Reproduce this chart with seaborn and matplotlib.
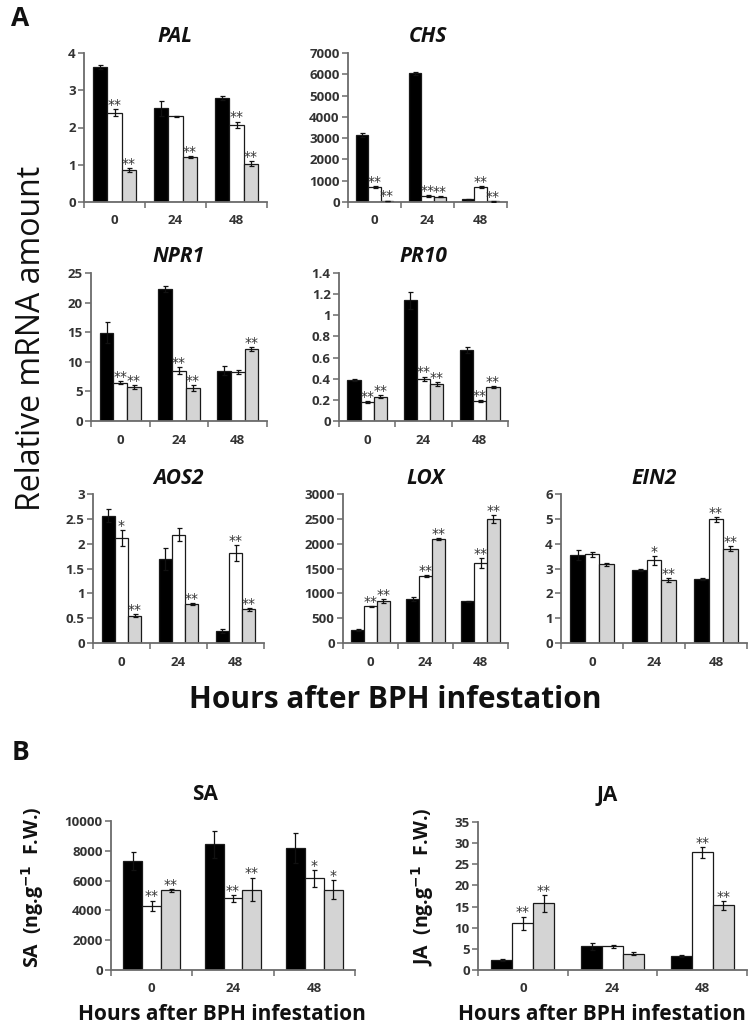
import numpy as np
import pandas as pd
import matplotlib
matplotlib.use("Agg")
import matplotlib.pyplot as plt
import seaborn as sns

sns.set_theme(style="white")
plt.rcParams['font.family'] = ['Open Sans', 'DejaVu Sans']

# ---------------- data ----------------
times = ["0", "24", "48"]
groups = ["G1", "G2", "G3"]

pal_vals = [[3.62, 2.52, 2.80], [2.40, 2.30, 2.08], [0.86, 1.20, 1.03]]
pal_errs = [[0.05, 0.20, 0.05], [0.10, 0.02, 0.08], [0.05, 0.03, 0.07]]
pal_sig = [["", "", ""], ["**", "", "**"], ["**", "**", "**"]]

chs_vals = [[3150, 6050, 130], [700, 280, 720], [60, 240, 30]]
chs_errs = [[100, 80, 20], [30, 30, 40], [10, 20, 10]]
chs_sig = [["", "", ""], ["**", "**", "**"], ["**", "**", "**"]]

npr1_vals = [[14.9, 22.3, 8.5], [6.5, 8.5, 8.3], [5.7, 5.5, 12.2]]
npr1_errs = [[1.8, 0.5, 0.8], [0.3, 0.6, 0.3], [0.3, 0.5, 0.3]]
npr1_sig = [["", "", ""], ["**", "**", ""], ["**", "**", "**"]]

pr10_vals = [[0.39, 1.14, 0.67], [0.18, 0.40, 0.19], [0.23, 0.35, 0.32]]
pr10_errs = [[0.01, 0.08, 0.03], [0.01, 0.02, 0.01], [0.015, 0.02, 0.01]]
pr10_sig = [["", "", ""], ["**", "**", "**"], ["**", "**", "**"]]

aos2_vals = [[2.56, 1.69, 0.25], [2.11, 2.18, 1.81], [0.55, 0.78, 0.68]]
aos2_errs = [[0.13, 0.23, 0.04], [0.16, 0.13, 0.16], [0.03, 0.02, 0.03]]
aos2_sig = [["", "", ""], ["*", "", "**"], ["**", "**", "**"]]

lox_vals = [[260, 890, 840], [740, 1350, 1610], [850, 2090, 2490]]
lox_errs = [[20, 40, 10], [10, 15, 100], [40, 20, 80]]
lox_sig = [["", "", ""], ["**", "**", "**"], ["**", "**", "**"]]

ein2_vals = [[3.53, 2.93, 2.57], [3.57, 3.33, 4.98], [3.17, 2.52, 3.80]]
ein2_errs = [[0.20, 0.03, 0.05], [0.10, 0.17, 0.10], [0.07, 0.08, 0.10]]
ein2_sig = [["", "", ""], ["", "*", "**"], ["", "**", "**"]]

sa_vals = [[7300, 8450, 8200], [4300, 4800, 6150], [5350, 5400, 5400]]
sa_errs = [[600, 900, 1000], [350, 250, 550], [100, 800, 650]]
sa_sig = [["", "", ""], ["**", "**", "*"], ["**", "**", "*"]]

ja_vals = [[2.4, 5.6, 3.3], [11.0, 5.6, 27.8], [15.8, 3.9, 15.3]]
ja_errs = [[0.2, 0.8, 0.3], [1.6, 0.4, 1.2], [2.0, 0.3, 1.0]]
ja_sig = [["", "", ""], ["**", "", "**"], ["**", "", "**"]]

colors = ["#000000", "#ffffff", "#d4d4d4"]

W, H = 750, 1033
fig = plt.figure(figsize=(W / 100, H / 100), dpi=100)


def rect(x0, x1, yt, yb):
    return [x0 / W, 1 - yb / H, (x1 - x0) / W, (yb - yt) / H]


TICK_COLOR = "#333333"
SPINE_COLOR = "#6b6b6b"


def panel(r, vals, errs, sig, ymax, ystep, title, italic=True, title_x=None,
          title_y=None, tick_fs=9.5):
    ax = fig.add_axes(rect(*r))
    rows = []
    for g, gname in enumerate(groups):
        for t, tname in enumerate(times):
            rows.append({"time": tname, "group": gname, "value": vals[g][t]})
    df = pd.DataFrame(rows)
    sns.barplot(data=df, x="time", y="value", hue="group", order=times,
                hue_order=groups, palette=colors, edgecolor="#1a1a1a",
                linewidth=0.9, width=0.7, errorbar=None, legend=False,
                saturation=1, ax=ax)
    bars = sorted(ax.patches, key=lambda p: p.get_x())
    for i, p in enumerate(bars):
        t, g = divmod(i, 3)
        xc = p.get_x() + p.get_width() / 2
        h = p.get_height()
        e = errs[g][t]
        ax.errorbar(xc, h, yerr=e, color="#111111", lw=0.9, capsize=1.8,
                    capthick=0.9, zorder=5)
        s = sig[g][t]
        if s:
            ax.annotate(s, (xc, h + e), xytext=(0, -2), textcoords="offset points",
                        ha="center", va="bottom", fontsize=10, color="#333333",
                        family="DejaVu Sans", zorder=6)
    ax.set_xlim(-0.5, 2.5)
    ax.set_ylim(0, ymax)
    yt = np.arange(0, ymax + ystep / 2, ystep)
    ax.set_yticks(yt)
    ax.set_yticklabels([f"{v:g}" for v in np.round(yt, 6)])
    ax.set_xticks([0, 1, 2])
    ax.set_xticklabels(times)
    ax.set_xticks([-0.5, 0.5, 1.5, 2.5], minor=True)
    ax.tick_params(axis="x", which="major", length=0, pad=9, labelsize=tick_fs,
                   labelcolor=TICK_COLOR)
    ax.tick_params(axis="x", which="minor", length=4, width=1.1, color=SPINE_COLOR,
                   direction="out", bottom=True)
    ax.tick_params(axis="y", length=4, width=1.1, color=SPINE_COLOR, direction="out",
                   left=True, labelsize=tick_fs, labelcolor=TICK_COLOR, pad=2)
    for lab in ax.get_xticklabels() + ax.get_yticklabels():
        lab.set_fontweight("bold")
    for s in ["top", "right"]:
        ax.spines[s].set_visible(False)
    for s in ["left", "bottom"]:
        ax.spines[s].set_color(SPINE_COLOR)
        ax.spines[s].set_linewidth(1.3)
    ax.set_xlabel("")
    ax.set_ylabel("")
    ax.grid(False)
    if title_x is None:
        title_x = (r[0] + r[1]) / 2
    if title_y is None:
        title_y = r[2] - 16
    fig.text(title_x / W, 1 - title_y / H, title, ha="center", va="center",
             fontsize=15, fontweight="bold", style="italic" if italic else "normal",
             color="#111111")
    return ax


panel((84, 267, 53, 202), pal_vals, pal_errs, pal_sig, 4, 1, "PAL")
panel((348, 507, 53, 202), chs_vals, chs_errs, chs_sig, 7000, 1000, "CHS")
panel((91, 267, 273, 421), npr1_vals, npr1_errs, npr1_sig, 25, 5, "NPR1")
panel((339, 508, 273, 421), pr10_vals, pr10_errs, pr10_sig, 1.4, 0.2, "PR10")
panel((93, 264, 494, 643), aos2_vals, aos2_errs, aos2_sig, 3, 0.5, "AOS2")
panel((343, 508, 494, 643), lox_vals, lox_errs, lox_sig, 3000, 500, "LOX")
panel((561, 747, 494, 643), ein2_vals, ein2_errs, ein2_sig, 6, 1, "EIN2")
panel((111, 355, 821, 970), sa_vals, sa_errs, sa_sig, 10000, 2000, "SA",
      italic=False, title_x=205, title_y=795)
panel((478, 747, 822, 970), ja_vals, ja_errs, ja_sig, 35, 5, "JA",
      italic=False, title_x=607, title_y=795)

# panel letters and shared labels
fig.text(20 / W, 1 - 18 / H, "A", fontsize=19, fontweight="bold", ha="center",
         va="center", color="#111111")
fig.text(20 / W, 1 - 752 / H, "B", fontsize=19, fontweight="bold", ha="center",
         va="center", color="#111111")
fig.text(32 / W, 1 - 338 / H, "Relative mRNA amount", rotation=90, fontsize=23,
         ha="center", va="center", color="#111111")
fig.text(395 / W, 1 - 700 / H, "Hours after BPH infestation", fontsize=21.5,
         fontweight="bold", ha="center", va="center", color="#111111")
fig.text(33 / W, 1 - 887 / H, r"SA  (ng.g$^{\mathbf{-1}}$  F.W.)", rotation=90,
         fontsize=14, fontweight="bold", ha="center", va="center", color="#111111")
fig.text(423 / W, 1 - 887 / H, r"JA  (ng.g$^{\mathbf{-1}}$  F.W.)", rotation=90,
         fontsize=14, fontweight="bold", ha="center", va="center", color="#111111")
fig.text(222 / W, 1 - 1015 / H, "Hours after BPH infestation", fontsize=15,
         fontweight="bold", ha="center", va="center", color="#111111")
fig.text(602 / W, 1 - 1015 / H, "Hours after BPH infestation", fontsize=15,
         fontweight="bold", ha="center", va="center", color="#111111")

fig.savefig("out.png", dpi=100, facecolor="white")
